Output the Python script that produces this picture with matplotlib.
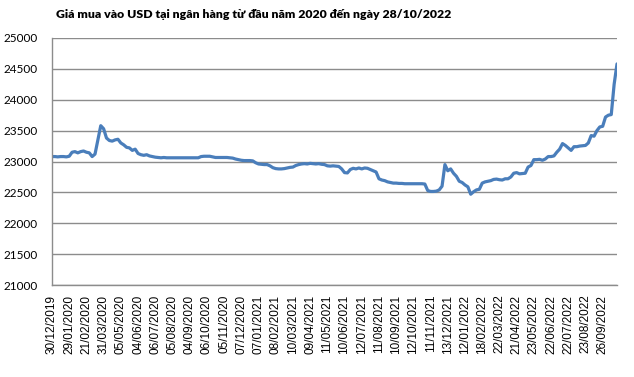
import matplotlib
matplotlib.use("Agg")
import matplotlib.pyplot as plt

title = "Giá mua vào USD tại ngân hàng từ đầu năm 2020 đến ngày 28/10/2022"

tick_labels = ["30/12/2019", "29/01/2020", "21/02/2020", "31/03/2020", "05/05/2020",
               "04/06/2020", "06/07/2020", "05/08/2020", "04/09/2020", "06/10/2020",
               "05/11/2020", "07/12/2020", "07/01/2021", "08/02/2021", "10/03/2021",
               "09/04/2021", "11/05/2021", "10/06/2021", "12/07/2021", "11/08/2021",
               "10/09/2021", "12/10/2021", "11/11/2021", "13/12/2021", "12/01/2022",
               "18/02/2022", "22/03/2022", "21/04/2022", "23/05/2022", "22/06/2022",
               "22/07/2022", "23/08/2022", "26/09/2022"]

# USD buying price (VND), sampled along the trading-day axis (6 samples per label step)
price = [
    23080, 23080, 23075, 23080, 23080, 23075, 23085,
    23150, 23160, 23140, 23160, 23170, 23150, 23140, 23080, 23120,
    23350, 23580, 23530, 23380, 23340, 23330, 23350, 23360, 23300, 23270, 23230,
    23220, 23180, 23200, 23130, 23110, 23100, 23110, 23090, 23080, 23070,
    23065, 23060, 23065, 23060, 23060, 23060, 23060, 23060, 23060, 23060, 23060,
    23060, 23060, 23060, 23060,
    23080, 23085, 23085, 23085, 23075, 23065, 23065, 23065, 23065, 23065, 23060, 23055,
    23040, 23030, 23020, 23015, 23015, 23015, 23010, 22980, 22960, 22955, 22950,
    22950, 22930,
    22900, 22885, 22880, 22880, 22885, 22895, 22905, 22910, 22935, 22950, 22960,
    22965, 22960, 22970, 22965, 22960, 22965, 22955, 22950, 22930, 22925, 22930,
    22925, 22920,
    22880, 22820, 22815, 22870, 22890, 22880, 22895, 22880, 22895, 22890, 22870,
    22850, 22830, 22720, 22700, 22690, 22670, 22660,
    22650, 22650, 22645, 22645, 22640, 22640, 22640, 22640, 22640, 22640, 22640, 22635,
    22530, 22515, 22515, 22520, 22540, 22600, 22950, 22850, 22880, 22810, 22760,
    22680, 22660, 22620, 22590, 22470, 22510, 22540, 22550,
    22650, 22670, 22680, 22690, 22710, 22715, 22705, 22700, 22720, 22720, 22750,
    22810, 22820, 22800, 22805, 22810,
    22910, 22935, 23030, 23030, 23035, 23020, 23040, 23080, 23080, 23090, 23150,
    23200, 23290, 23260, 23220, 23180, 23240, 23240, 23250, 23255, 23260, 23300,
    23420, 23410, 23500, 23560, 23570, 23720, 23750, 23760, 24250, 24580,
]

samples_per_label = 6
y_ticks = list(range(21000, 25001, 500))

fig = plt.figure(figsize=(6.34, 3.77), dpi=100)
ax = fig.add_axes([52 / 634, 92 / 377, 565 / 634, 247 / 377])

idx = list(range(len(price)))
ax.plot(idx, price, color="#4A7EBB", linewidth=2.3, solid_joinstyle="round",
        solid_capstyle="round")

ax.set_xlim(0, len(price) - 1)
ax.set_ylim(21000, 25000)
ax.set_yticks(y_ticks)
ax.set_yticklabels([str(v) for v in y_ticks], fontsize=8.5, family="Lato")
ax.set_xticks(idx[::samples_per_label][:len(tick_labels)])
ax.set_xticklabels(tick_labels, rotation=90, fontsize=8.5, family="Liberation Sans")
ax.tick_params(axis="both", length=0)
ax.tick_params(axis="y", pad=10)
ax.tick_params(axis="x", pad=7)

ax.grid(axis="y", color="#8C8C8C", linewidth=1.0)
ax.set_axisbelow(True)
for s in ["top", "right"]:
    ax.spines[s].set_visible(False)
for s in ["left", "bottom"]:
    ax.spines[s].set_color("#8C8C8C")
    ax.spines[s].set_linewidth(1.0)

fig.text(254 / 634, 1 - 14 / 377, title, ha="center", va="center",
         fontsize=8.8, fontweight="heavy", family="Lato")

fig.savefig("out.png", dpi=100)
